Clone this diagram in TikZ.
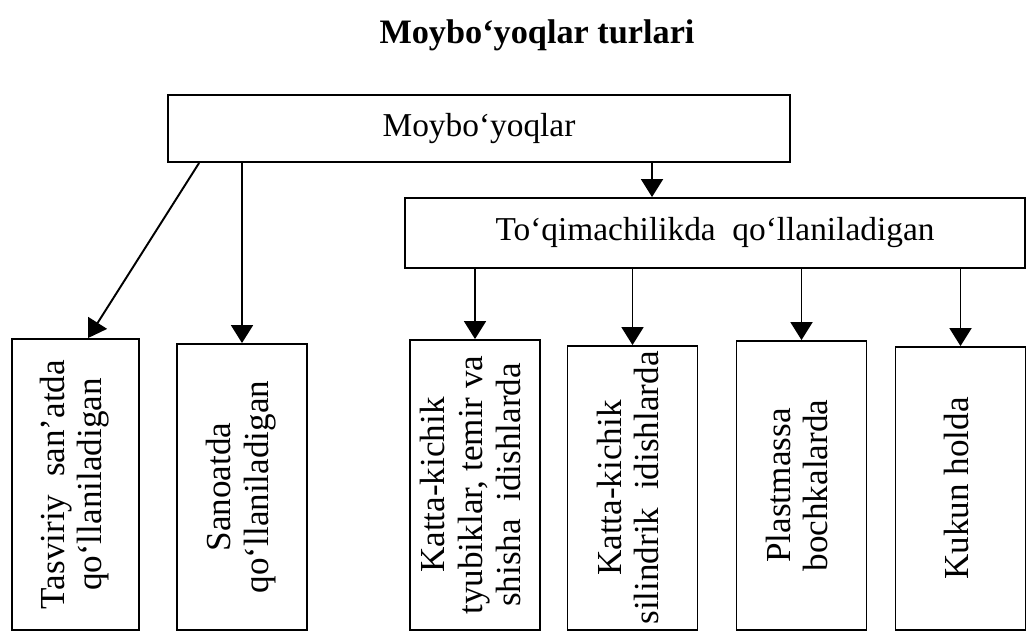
\documentclass[tikz,border=0pt]{standalone}
\usepackage{fontspec}
\setmainfont{Liberation Serif}
\usepackage{tikz}
\usetikzlibrary{arrows.meta}

\newcommand{\vtext}[1]{\rotatebox{90}{\begin{tabular}{@{}c@{}}#1\end{tabular}}}

\begin{document}
\begin{tikzpicture}[
  x=0.02cm, y=-0.02cm,
  catbox/.style={draw=black, line width=1.1pt, align=center, inner sep=0pt, font=\fontsize{19}{21}\selectfont},
  vbox/.style={draw=black, line width=1.1pt, inner sep=0pt, minimum width=2.6cm, font=\fontsize{20}{21.5}\selectfont},
  line/.style={-{Triangle[length=0.36cm,width=0.44cm]}, line width=1.1pt, draw=black}
]
\useasboundingbox (0,0) rectangle (1027,632);

\node[font=\fontsize{19.5}{22}\selectfont\bfseries] (title) at (537,35) {Moybo‘yoqlar turlari};

\node[catbox, minimum width=12.44cm, minimum height=1.34cm] (top) at (479,128.5) {Moybo‘yoqlar};
\node[catbox, minimum width=12.4cm, minimum height=1.4cm] (textile) at (715,233) {To‘qimachilikda\ \ qo‘llaniladigan};

% bottom row
\node[vbox, minimum width=2.54cm, minimum height=5.82cm] (b1) at (75.5,484.5) {\vtext{Tasviriy\ \ san’atda\\qo‘llaniladigan}};
\node[vbox, minimum height=5.72cm] (b2) at (242,487) {\vtext{Sanoatda\\qo‘llaniladigan}};
\node[vbox, minimum height=5.8cm] (b3) at (475,485) {\vtext{Katta-kichik\\tyubiklar, temir va\\shisha\ \ idishlarda}};
\node[vbox, minimum height=5.68cm] (b4) at (632.5,488) {\vtext{Katta-kichik\\silindrik\ \ idishlarda}};
\node[vbox, minimum height=5.78cm] (b5) at (801.5,485.5) {\vtext{Plastmassa\\bochkalarda}};
\node[vbox, minimum height=5.66cm] (b6) at (960.5,488.5) {\vtext{Kukun holda}};

\coordinate (tin) at ([xshift=-1.26cm]textile.north);

\draw[line] ([xshift=0.64cm]top.south west) -- ([xshift=0.25cm]b1.north);
\draw[line] (b2.north |- top.south) -- (b2.north);
\draw[line] (tin |- top.south) -- (tin);
\foreach \b in {b3,b4,b5,b6}
  \draw[line] (\b.north |- textile.south) -- (\b.north);

\end{tikzpicture}
\end{document}
